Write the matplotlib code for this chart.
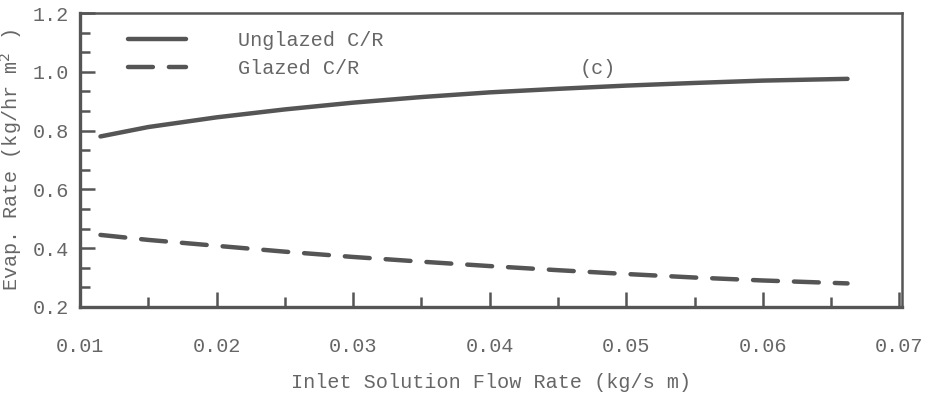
import matplotlib
matplotlib.use('Agg')
import matplotlib.pyplot as plt
import numpy as np

# Data
flow = [0.0115, 0.015, 0.02, 0.025, 0.03, 0.035, 0.04, 0.045, 0.05, 0.055, 0.06, 0.0662]
unglazed = [0.780, 0.812, 0.845, 0.872, 0.895, 0.914, 0.930, 0.942, 0.953, 0.962, 0.970, 0.976]
glazed = [0.445, 0.428, 0.408, 0.388, 0.370, 0.354, 0.339, 0.325, 0.312, 0.300, 0.290, 0.280]

ink = '#555555'
plt.rcParams['font.family'] = ['Liberation Mono', 'DejaVu Sans Mono']

fig = plt.figure(figsize=(9.29, 3.94), dpi=100)
ax = fig.add_axes([0.0861, 0.221, 0.885, 0.746])

ax.plot(flow, unglazed, color=ink, lw=3.2, solid_capstyle='round', label='Unglazed C/R')
ax.plot(flow, glazed, color=ink, lw=3.2, dashes=(5.6, 3.6), dash_capstyle='round', label='Glazed C/R')

ax.set_xlim(0.01, 0.0702)
ax.set_ylim(0.2, 1.2)
ax.set_xticks(np.arange(0.01, 0.0701, 0.01))
ax.set_xticklabels(['0.01', '0.02', '0.03', '0.04', '0.05', '0.06', '0.07'])
ax.set_xticks(np.arange(0.015, 0.066, 0.01), minor=True)
ax.set_yticks([0.2, 0.4, 0.6, 0.8, 1.0, 1.2])
ax.set_yticklabels(['0.2', '0.4', '0.6', '0.8', '1.0', '1.2'])
ax.set_yticks([v for v in np.arange(0.2, 1.2, 0.2 / 3) if abs(round(v / 0.2) * 0.2 - v) > 0.01], minor=True)

ax.tick_params(which='major', direction='in', length=11, width=1.8, color=ink,
               labelsize=14.5, labelcolor='#666666')
ax.tick_params(which='minor', direction='in', length=7, width=1.8, color=ink)
ax.tick_params(axis='x', pad=22)
ax.tick_params(axis='y', pad=8)
for s in ax.spines.values():
    s.set_color(ink)
    s.set_linewidth(1.8)
ax.spines['left'].set_linewidth(2.4)
ax.spines['bottom'].set_linewidth(2.4)

ax.set_xlabel('Inlet Solution Flow Rate (kg/s m)', fontsize=14.5, color='#666666', labelpad=12)
ax.set_ylabel('Evap. Rate (kg/hr m$^{2}$ )', fontsize=14.5, color='#666666', labelpad=6)

leg = ax.legend(loc='upper left', bbox_to_anchor=(0.036, 1.0), frameon=False, fontsize=14.5,
                handlelength=2.9, handletextpad=2.6, labelspacing=0.45)
for t in leg.get_texts():
    t.set_color('#666666')

ax.text(0.608, 0.81, '(c)', transform=ax.transAxes, fontsize=14.5, color='#666666', va='center')

plt.savefig('out.png', dpi=100)
